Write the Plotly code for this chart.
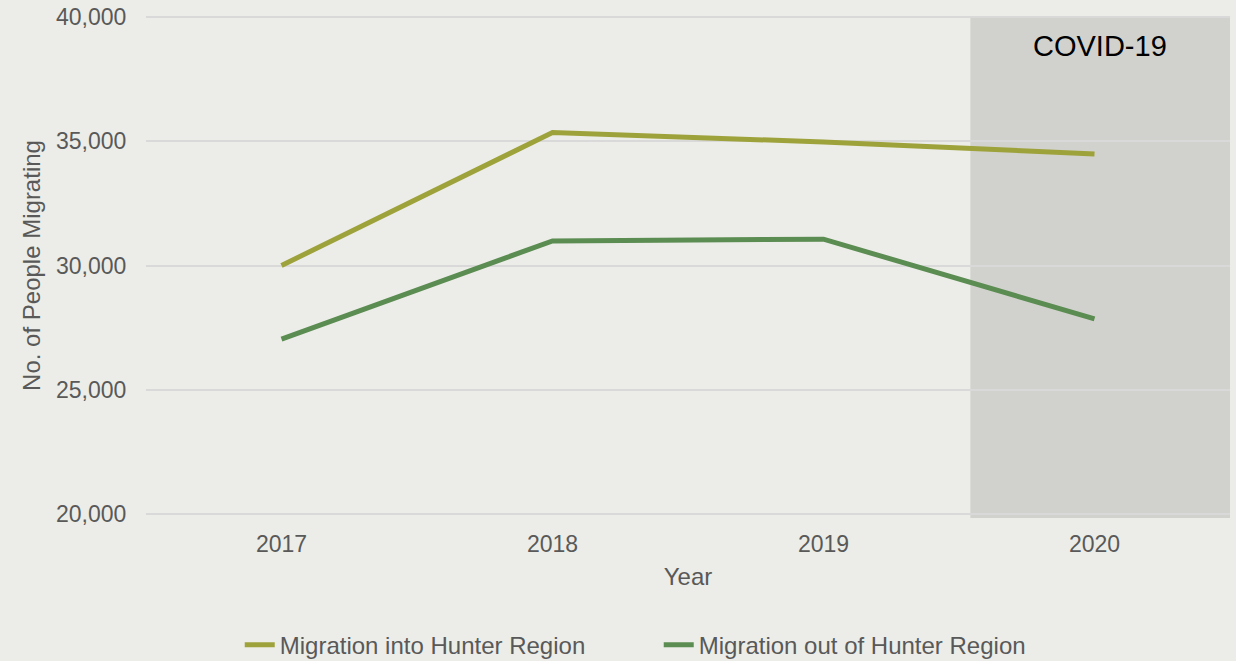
import plotly.graph_objects as go

years = ["2017", "2018", "2019", "2020"]
into_hunter = [30000, 35350, 34970, 34490]
out_of_hunter = [27040, 30990, 31060, 27850]
y_ticks = [20000, 25000, 30000, 35000, 40000]
y_tick_text = ["20,000", "25,000", "30,000", "35,000", "40,000"]

grey_text = "#595959"
font_family = "Liberation Sans, Arial, sans-serif"

fig = go.Figure()
fig.add_trace(go.Scatter(x=years, y=into_hunter, mode="lines",
                         name="Migration into Hunter Region",
                         line=dict(color="#9EA23A", width=5)))
fig.add_trace(go.Scatter(x=years, y=out_of_hunter, mode="lines",
                         name="Migration out of Hunter Region",
                         line=dict(color="#5B8C51", width=5)))

fig.add_shape(type="rect", xref="x", yref="paper", x0=2.542, x1=3.5, y0=-0.004, y1=0.997,
              fillcolor="#D1D2CD", line=dict(width=0), layer="below")
fig.add_annotation(x=3.02, xref="x", y=0.938, yref="paper", yanchor="middle",
                   text="COVID-19", showarrow=False,
                   font=dict(size=29, color="#000000", family=font_family))

fig.update_layout(
    width=1236, height=661,
    margin=dict(l=146, r=6, t=15, b=145, autoexpand=False),
    paper_bgcolor="#ECEDE8", plot_bgcolor="#ECEDE8",
    font=dict(family=font_family, size=23, color=grey_text),
    showlegend=True,
    legend=dict(orientation="h", x=0.473, xanchor="center", xref="paper",
                y=0.024, yanchor="middle", yref="container",
                font=dict(size=24, color=grey_text), entrywidth=374, bgcolor="rgba(0,0,0,0)"),
    xaxis=dict(type="category", range=[-0.5, 3.5], showgrid=False, showline=False,
               ticks="outside", ticklen=7, tickcolor="rgba(0,0,0,0)",
               title=dict(text="Year", font=dict(size=24, color=grey_text), standoff=12)),
    yaxis=dict(range=[19920, 40080], tickvals=y_ticks, ticktext=y_tick_text,
               showgrid=True, gridcolor="#D9D9D9", gridwidth=2, zeroline=False, showline=False,
               ticks="outside", ticklen=14, tickcolor="rgba(0,0,0,0)",
               title=dict(text="No. of People Migrating", font=dict(size=24, color=grey_text), standoff=8)),
)

fig.write_html("out.html", config={"displayModeBar": False},
               post_script="document.body.style.margin='0';document.body.style.background='#ECEDE8';")
